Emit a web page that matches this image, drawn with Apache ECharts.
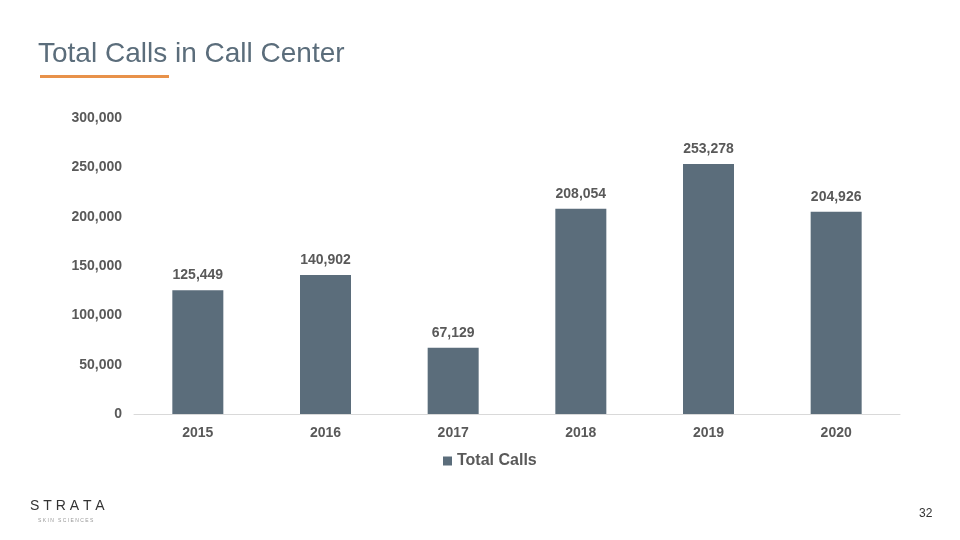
<!DOCTYPE html>
<html>
<head>
<meta charset="utf-8">
<script src="https://cdn.jsdelivr.net/npm/echarts@6/dist/echarts.min.js"></script>
<style>
  html, body { margin: 0; padding: 0; background: #fff; }
  #chart { width: 960px; height: 540px; }
</style>
</head>
<body>
<div id="chart"></div>
<script>
// chart data
var years = ['2015', '2016', '2017', '2018', '2019', '2020']
var totalCalls = [125449, 140902, 67129, 208054, 253278, 204926]
var seriesName = 'Total Calls'

var font = 'Liberation Sans, Arial, sans-serif'
var textGray = '#595959'
var barColor = '#5b6d7b'

function fmt(v) { return Number(v).toLocaleString('en-US') }

var chart = echarts.init(document.getElementById('chart'))
chart.setOption({
    backgroundColor: '#fff',
    animation: false,
    textStyle: { fontFamily: font },
    grid: { left: 134, right: 60, top: 118, bottom: 126, containLabel: false },
    legend: {
        data: [seriesName],
        top: 448,
        left: 438,
        icon: 'rect',
        itemWidth: 9,
        itemHeight: 9,
        itemGap: 4,
        textStyle: { color: textGray, fontSize: 16, fontWeight: 'bold', fontFamily: font }
    },
    xAxis: {
        type: 'category',
        data: years,
        axisLine: { show: true, lineStyle: { color: '#d9d9d9', width: 1 } },
        axisTick: { show: false },
        axisLabel: { color: textGray, fontSize: 14, fontWeight: 'bold', margin: 12 }
    },
    yAxis: {
        type: 'value',
        min: 0,
        max: 300000,
        interval: 50000,
        splitLine: { show: false },
        axisLine: { show: false },
        axisTick: { show: false },
        axisLabel: {
            color: textGray, fontSize: 14, fontWeight: 'bold', margin: 12,
            formatter: fmt
        }
    },
    series: [{
        name: seriesName,
        type: 'bar',
        data: totalCalls,
        barWidth: 51,
        itemStyle: { color: barColor },
        label: {
            show: true,
            position: 'top',
            distance: 8,
            color: textGray,
            fontSize: 14,
            fontWeight: 'bold',
            formatter: function (p) { return fmt(p.value) }
        }
    }],
    graphic: [
        {
            type: 'text', left: 38, top: 40,
            style: { text: 'Total Calls in Call Center', fill: '#5b6d7b', font: '28px ' + font }
        },
        {
            type: 'rect', shape: { x: 40, y: 75, width: 129, height: 3 },
            style: { fill: '#e8924a' }
        },
        {
            type: 'text', left: 30, top: 499,
            style: { text: 'S T R A T A', fill: '#333', font: '300 14px ' + font }
        },
        {
            type: 'text', left: 38, top: 518,
            style: { text: 'S K I N   S C I E N C E S', fill: '#999', font: '5px ' + font }
        },
        {
            type: 'text', left: 919, top: 508,
            style: { text: '32', fill: '#333', font: '12px ' + font }
        }
    ]
})
</script>
</body>
</html>
